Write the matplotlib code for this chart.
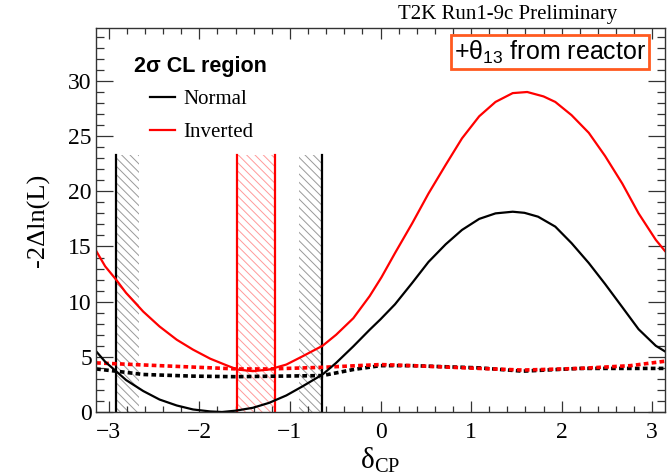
import matplotlib
matplotlib.use("Agg")
import matplotlib.pyplot as plt
import numpy as np
from matplotlib.ticker import MultipleLocator

plt.rcParams['font.family'] = ['Liberation Serif', 'DejaVu Serif']
plt.rcParams['mathtext.fontset'] = 'custom'
plt.rcParams['mathtext.rm'] = 'Liberation Serif'
plt.rcParams['mathtext.sf'] = 'Liberation Sans'
plt.rcParams['hatch.linewidth'] = 0.7

# delta_CP sample points and -2dlnL values
dcp_normal = [-3.14, -3.04, -2.92, -2.81, -2.62, -2.44, -2.25, -2.07, -1.88, -1.75,
              -1.60, -1.41, -1.23, -1.04, -0.86, -0.64, -0.49, -0.30, -0.12, 0.0,
              0.16, 0.35, 0.53, 0.72, 0.90, 1.09, 1.27, 1.46, 1.59, 1.74,
              1.93, 2.11, 2.30, 2.48, 2.67, 2.85, 3.04, 3.14]
nll_normal = [5.5, 4.55, 3.7, 2.9, 1.9, 1.13, 0.59, 0.23, 0.05, 0.0,
              0.12, 0.38, 0.83, 1.5, 2.33, 3.4, 4.45, 5.95, 7.45, 8.4,
              9.76, 11.7, 13.6, 15.2, 16.5, 17.5, 18.0, 18.15, 18.05, 17.7,
              16.8, 15.3, 13.5, 11.6, 9.5, 7.5, 6.0, 5.5]

dcp_inverted = [-3.14, -3.04, -2.92, -2.81, -2.62, -2.44, -2.25, -2.07, -1.88, -1.70,
                -1.58, -1.41, -1.23, -1.04, -0.86, -0.64, -0.49, -0.30, -0.12, 0.01,
                0.16, 0.35, 0.53, 0.72, 0.90, 1.09, 1.27, 1.46, 1.62, 1.80,
                1.93, 2.11, 2.30, 2.48, 2.67, 2.85, 3.04, 3.14]
nll_inverted = [14.6, 13.2, 12.0, 10.8, 9.1, 7.75, 6.55, 5.65, 4.83, 4.23,
                3.85, 3.7, 3.85, 4.3, 5.05, 6.0, 7.0, 8.5, 10.5, 12.2,
                14.4, 17.1, 19.8, 22.4, 24.8, 26.8, 28.1, 28.9, 29.0, 28.6,
                28.1, 26.9, 25.3, 23.2, 20.7, 18.0, 15.6, 14.6]

# 2 sigma critical values
dcp_crit_n = [-3.14, -2.92, -2.62, -2.07, -1.60, -0.64, -0.30, 0.0, 0.35, 1.09, 1.57, 2.20, 2.76, 3.14]
crit_normal = [3.9, 3.7, 3.4, 3.25, 3.2, 3.3, 3.85, 4.2, 4.2, 4.0, 3.7, 3.95, 3.95, 3.95]
dcp_crit_i = [-3.14, -2.44, -1.58, -1.23, -0.64, 0.0, 0.35, 1.09, 1.57, 2.20, 2.76, 3.14]
crit_inverted = [4.45, 4.2, 3.9, 3.9, 4.05, 4.3, 4.2, 3.95, 3.8, 3.95, 4.2, 4.6]

# 2 sigma CL edges and hatched bands
normal_edges = [-2.92, -0.65]
inverted_edges = [-1.58, -1.16]
normal_bands = [(-2.92, -2.67), (-0.90, -0.65)]
inverted_bands = [(-1.58, -1.16)]
band_top = 23.3

fig = plt.figure(figsize=(6.67, 4.74), dpi=100)
ax = fig.add_axes([96 / 667, 1 - 412 / 474, 569 / 667, 384 / 474])

for x0, x1 in normal_bands:
    ax.fill_between([x0, x1], 0, band_top, facecolor='none', edgecolor='#999999',
                    hatch='\\\\\\\\', linewidth=0)
for x0, x1 in inverted_bands:
    ax.fill_between([x0, x1], 0, band_top, facecolor='none', edgecolor='#ff9a9a',
                    hatch='\\\\\\\\', linewidth=0)
for x in normal_edges:
    ax.plot([x, x], [0, band_top], color='black', lw=1.6)
for x in inverted_edges:
    ax.plot([x, x], [0, band_top], color='red', lw=1.6)

ax.plot(dcp_crit_n, crit_normal, color='black', lw=2.6, ls=(0, (1.3, 0.9)))
ax.plot(dcp_crit_i, crit_inverted, color='red', lw=2.6, ls=(0, (1.3, 0.9)))
l1, = ax.plot(dcp_normal, nll_normal, color='black', lw=1.6, label='Normal')
l2, = ax.plot(dcp_inverted, nll_inverted, color='red', lw=1.6, label='Inverted')

ax.set_xlim(-np.pi, np.pi)
ax.set_ylim(0, 34.8)
ax.xaxis.set_major_locator(MultipleLocator(1))
ax.xaxis.set_minor_locator(MultipleLocator(0.2))
ax.yaxis.set_major_locator(MultipleLocator(5))
ax.yaxis.set_minor_locator(MultipleLocator(1))
ax.tick_params(which='both', direction='in', top=True, right=True, width=0.9,
               labelsize=17, color='#333333')
ax.tick_params(axis='x', which='major', length=8, pad=7)
ax.tick_params(axis='x', which='minor', length=4)
ax.tick_params(axis='y', which='major', length=12, pad=3)
ax.tick_params(axis='y', which='minor', length=6)
for s in ax.spines.values():
    s.set_color('#333333')
    s.set_linewidth(1)

ax.set_xlabel('δ$_{\\mathrm{CP}}$', fontsize=21, labelpad=2)
ax.set_ylabel('-2Δln(L)', fontsize=19, labelpad=13)

ax.text(0.067, 0.9, '2σ CL region', transform=ax.transAxes, family='Liberation Sans',
        fontweight='bold', fontsize=15.5, ha='left', va='center')
ax.legend(handles=[l1, l2], loc='upper left', bbox_to_anchor=(0.095, 0.84),
          frameon=False, fontsize=15, handlelength=1.2, handletextpad=0.4,
          labelspacing=0.65, borderpad=0, borderaxespad=0)

ax.text(0.798, 0.9375, '+θ$_{\\mathsf{13}}$ from reactor', transform=ax.transAxes,
        family='Liberation Sans', fontsize=18, ha='center', va='center',
        bbox=dict(boxstyle='square,pad=0.12', facecolor='white', edgecolor='#ff5a1f', lw=2))

fig.text(0.925, 0.970, 'T2K Run1-9c Preliminary', fontsize=15, ha='right', va='center')

fig.savefig('out.png', dpi=100)
